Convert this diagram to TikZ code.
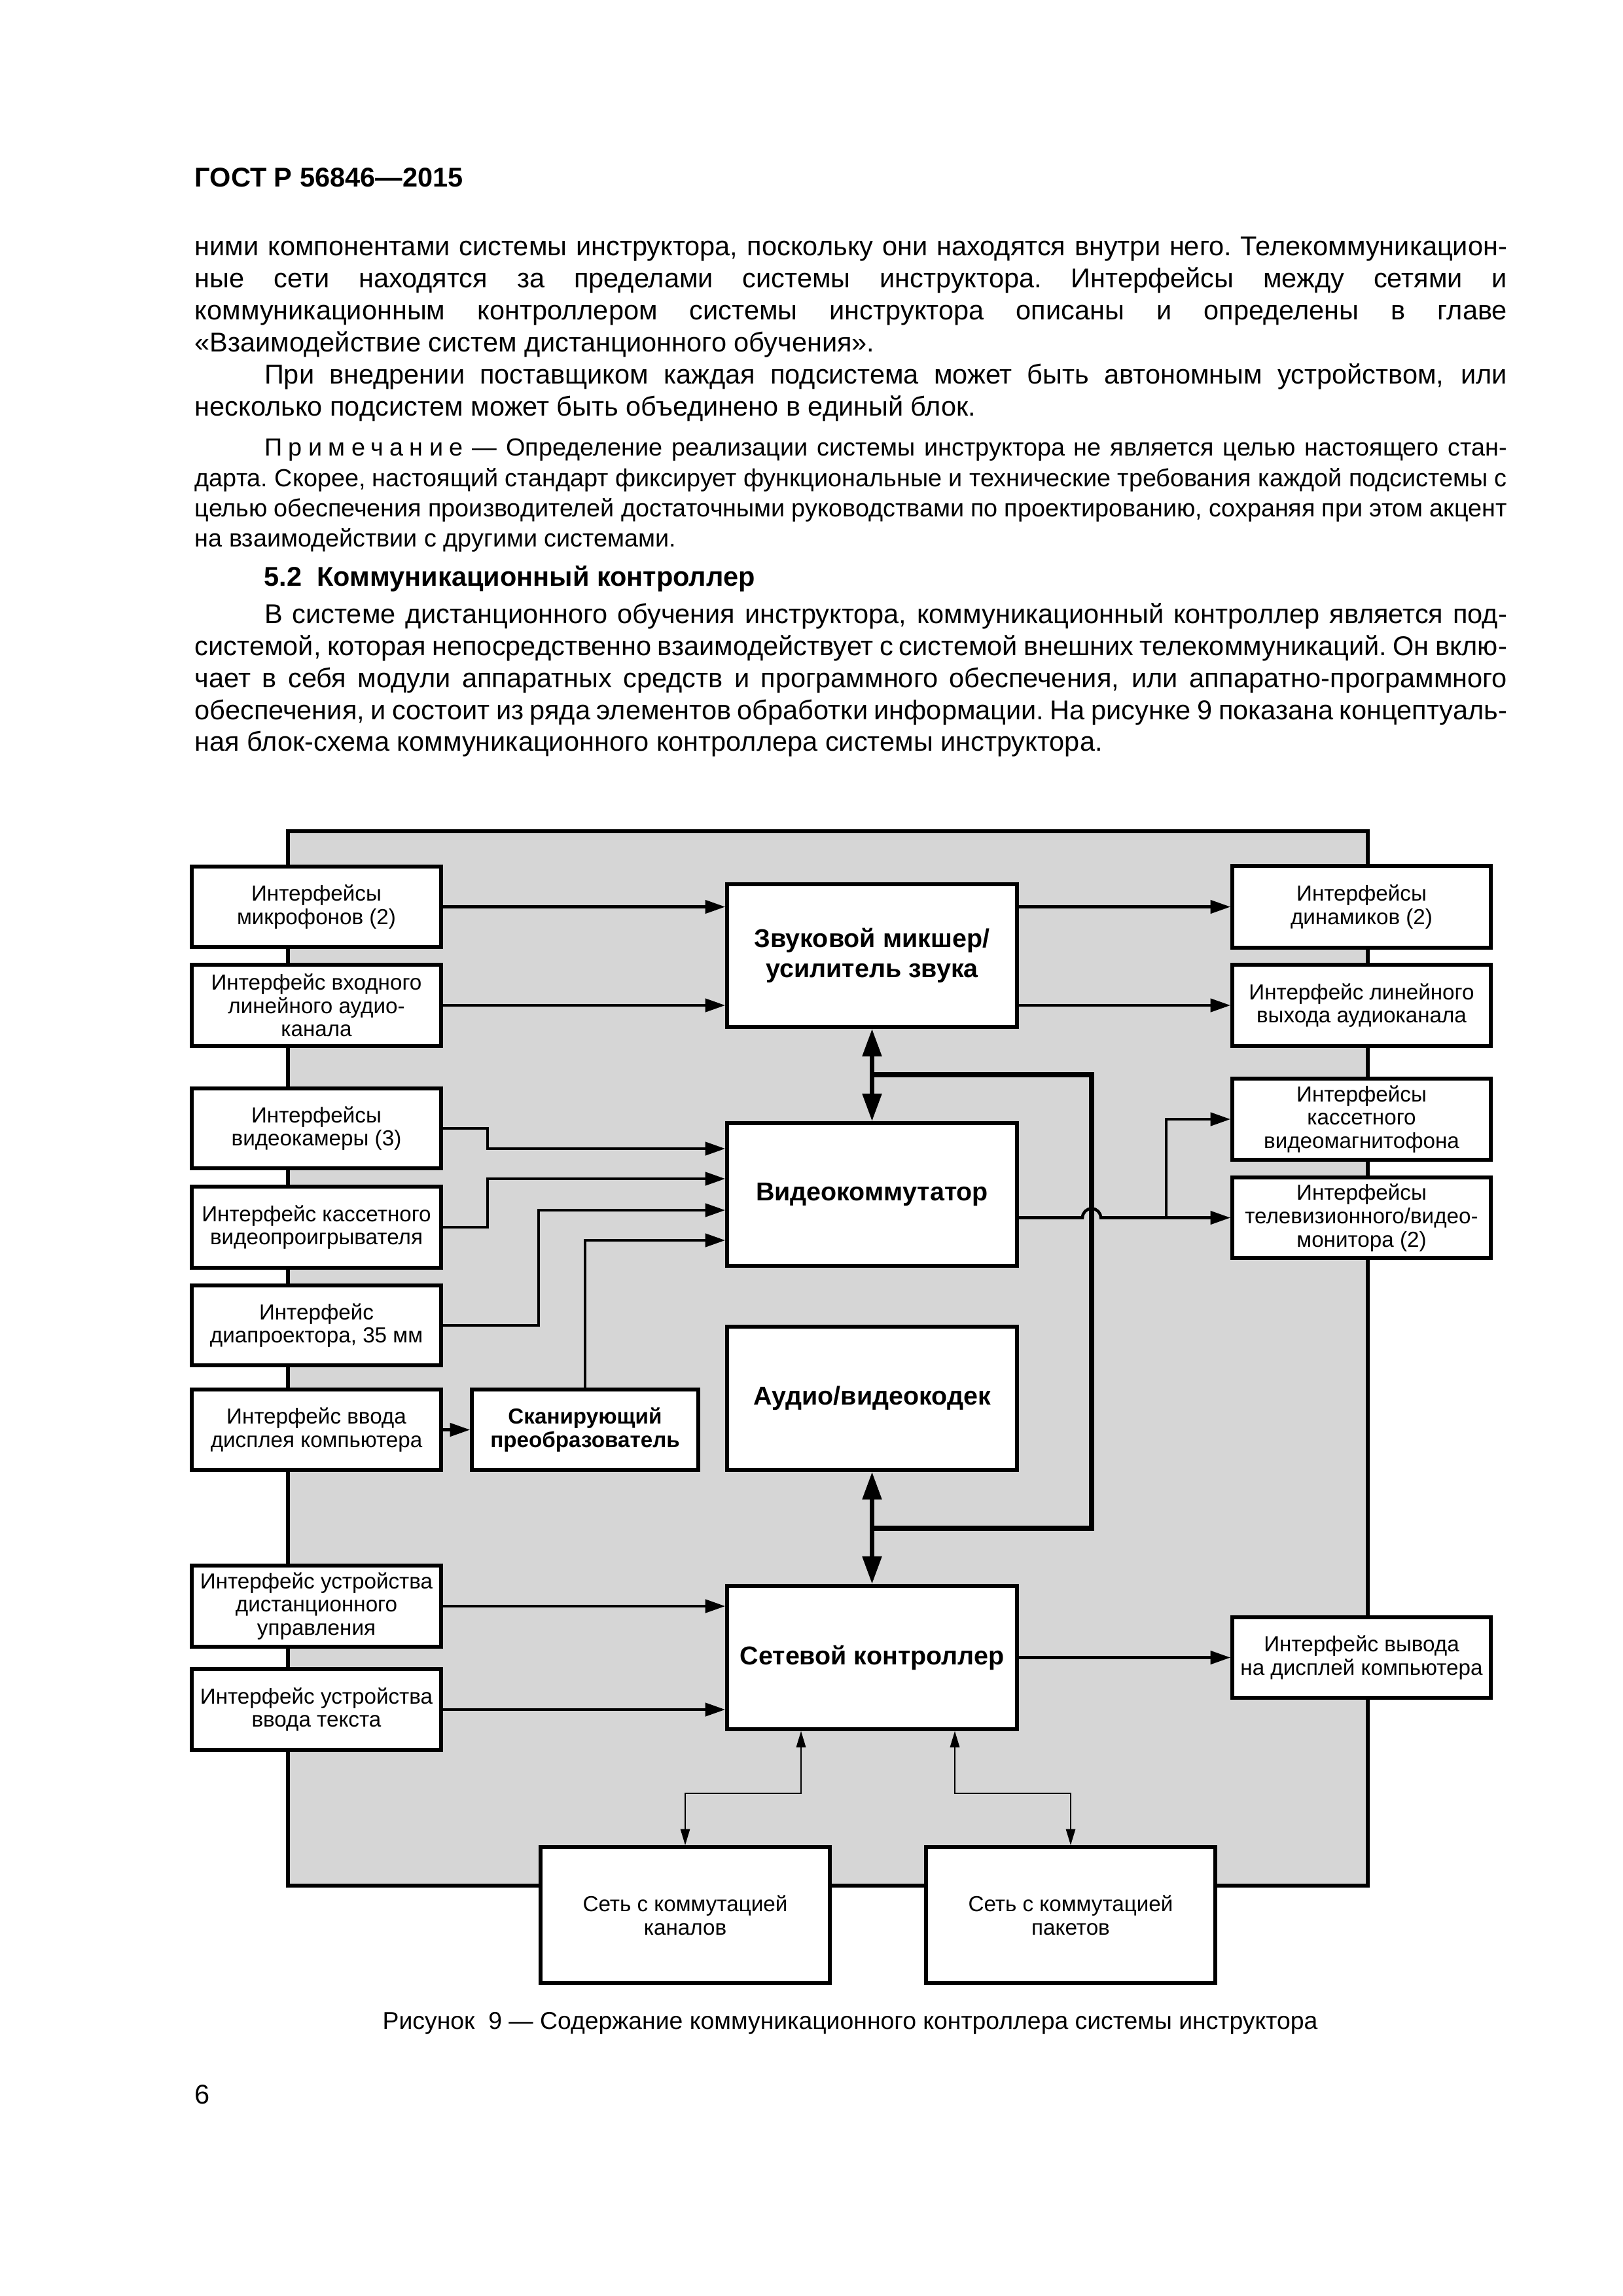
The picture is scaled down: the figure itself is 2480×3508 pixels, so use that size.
\documentclass[tikz,border=0pt]{standalone}
\usepackage{fontspec}
\setmainfont{Liberation Sans}
\usetikzlibrary{arrows.meta}

\newcommand\pxu{0.084667mm}
\newlength\tw \setlength\tw{169.76mm}
\newcommand\fbody{\fontsize{10}{12}\selectfont\spaceskip=.278em plus .5em minus .12em\xspaceskip=\spaceskip}
\newcommand\fnote{\fontsize{9.1}{11}\selectfont\spaceskip=.278em plus .5em minus .14em\xspaceskip=\spaceskip}
\newcommand\fhead{\fontsize{10}{12}\selectfont\bfseries}
\newcommand\fcap{\fontsize{9}{11}\selectfont}
\newcommand\fsm{\fontsize{8}{8.6}\selectfont}
\newcommand\fbig{\fontsize{9.5}{11}\selectfont\bfseries}
\newcommand\fsmb{\fontsize{8}{8.8}\selectfont\bfseries}
\newcommand\JL[1]{\hbox to\tw{#1}}
\newcommand\bx[6]{\node[#1, minimum width={(#4-#2)*\pxu}, minimum height={(#5-#3)*\pxu}] (#6) at ({(#2+#4)/2},{(#3+#5)/2})}

\tikzset{
  box/.style={draw, line width=1.3pt, fill=white, inner sep=0pt, align=center, font=\fsm},
  bigbox/.style={box, font=\fbig},
  scanbox/.style={box, font=\fsmb},
  frame/.style={draw, line width=1.3pt, fill=black!16, inner sep=0pt},
  arr/.style={line width=1.1pt, -{Triangle[length=2.6mm,width=1.7mm]}},
  dbl/.style={line width=1.8pt, {Triangle[length=3.6mm,width=2.4mm]}-{Triangle[length=3.6mm,width=2.4mm]}},
  bus/.style={line width=1.8pt},
  thinarr/.style={line width=0.6pt, {Triangle[length=2.1mm,width=1.2mm]}-{Triangle[length=2.1mm,width=1.2mm]}},
  txt/.style={anchor=base west, inner sep=0pt},
}

\begin{document}
\begin{tikzpicture}[x=\pxu, y=-\pxu]
\useasboundingbox (0,0) rectangle (2480,3508);

% ---------- page text ----------
\node[txt, font=\fhead] (hd) at (297,285) {ГОСТ Р 56846—2015};

\node[txt, font=\fbody] (t1) at (297,390) {\JL{ними компонентами системы инструктора, поскольку они находятся внутри него. Телекоммуникацион-}};
\node[txt, font=\fbody] (t2) at (297,439) {\JL{ные сети находятся за пределами системы инструктора. Интерфейсы между сетями и}};
\node[txt, font=\fbody] (t3) at (297,488) {\JL{коммуникационным контроллером системы инструктора описаны и определены в главе}};
\node[txt, font=\fbody] (t4) at (297,537) {«Взаимодействие систем дистанционного обучения».};
\node[txt, font=\fbody] (t5) at (297,586) {\JL{\hspace*{9mm}При внедрении поставщиком каждая подсистема может быть автономным устройством, или}};
\node[txt, font=\fbody] (t6) at (297,635) {несколько подсистем может быть объединено в единый блок.};

\node[txt, font=\fnote] (n1) at (297,696) {\JL{\hspace*{9mm}{\addfontfeature{LetterSpace=25}Примечание} — Определение реализации системы инструктора не является целью настоящего стан-}};
\node[txt, font=\fnote] (n2) at (297,743) {\JL{дарта. Скорее, настоящий стандарт фиксирует функциональные и технические требования каждой подсистемы с}};
\node[txt, font=\fnote] (n3) at (297,789) {\JL{целью обеспечения производителей достаточными руководствами по проектированию, сохраняя при этом акцент}};
\node[txt, font=\fnote] (n4) at (297,835) {на взаимодействии с другими системами.};

\node[txt, font=\fhead] (h52) at (403,895) {5.2\ \ Коммуникационный контроллер};

\node[txt, font=\fbody] (s1) at (297,952) {\JL{\hspace*{9mm}В системе дистанционного обучения инструктора, коммуникационный контроллер является под-}};
\node[txt, font=\fbody] (s2) at (297,1001) {\JL{системой, которая непосредственно взаимодействует с системой внешних телекоммуникаций. Он вклю-}};
\node[txt, font=\fbody] (s3) at (297,1050) {\JL{чает в себя модули аппаратных средств и программного обеспечения, или аппаратно-программного}};
\node[txt, font=\fbody] (s4) at (297,1099) {\JL{обеспечения, и состоит из ряда элементов обработки информации. На рисунке 9 показана концептуаль-}};
\node[txt, font=\fbody] (s5) at (297,1147) {ная блок-схема коммуникационного контроллера системы инструктора.};

% ---------- diagram ----------
\bx{frame}{440}{1270}{2090}{2881}{frame} {};

\bx{box}{293}{1324}{674}{1447}{L1} {Интерфейсы\\микрофонов (2)};
\bx{box}{293}{1474}{674}{1598}{L2} {Интерфейс входного\\линейного аудио-\\канала};
\bx{box}{293}{1663}{674}{1785}{L3} {Интерфейсы\\видеокамеры (3)};
\bx{box}{293}{1813}{674}{1937}{L4} {Интерфейс кассетного\\видеопроигрывателя};
\bx{box}{293}{1964}{674}{2086}{L5} {Интерфейс\\диапроектора, 35 мм};
\bx{box}{293}{2123}{674}{2246}{L6} {Интерфейс ввода\\дисплея компьютера};
\bx{box}{293}{2392}{674}{2516}{L7} {Интерфейс устройства\\дистанционного\\управления};
\bx{box}{293}{2550}{674}{2674}{L8} {Интерфейс устройства\\ввода текста};

\bx{scanbox}{721}{2123}{1067}{2246}{sc} {Сканирующий\\преобразователь};

\bx{bigbox}{1111}{1351}{1554}{1569}{mix} {Звуковой микшер/\\усилитель звука};
\bx{bigbox}{1111}{1716}{1554}{1934}{vc} {Видеокоммутатор};
\bx{bigbox}{1111}{2027}{1554}{2246}{cod} {Аудио/видеокодек};
\bx{bigbox}{1111}{2423}{1554}{2642}{nc} {Сетевой контроллер};

\bx{box}{1883}{1323}{2278}{1448}{R1} {Интерфейсы\\динамиков (2)};
\bx{box}{1883}{1474}{2278}{1598}{R2} {Интерфейс линейного\\выхода аудиоканала};
\bx{box}{1883}{1648}{2278}{1772}{R3} {Интерфейсы\\кассетного\\видеомагнитофона};
\bx{box}{1883}{1799}{2278}{1922}{R4} {Интерфейсы\\телевизионного/видео-\\монитора (2)};
\bx{box}{1883}{2471}{2278}{2594}{Ro} {Интерфейс вывода\\на дисплей компьютера};

\bx{box}{826}{2822}{1268}{3030}{ch} {Сеть с коммутацией\\каналов};
\bx{box}{1415}{2822}{1857}{3030}{pk} {Сеть с коммутацией\\пакетов};

% connectors
\draw[arr] (L1.east) -- (L1.east -| mix.west);
\draw[arr] (L2.east) -- (L2.east -| mix.west);
\draw[arr] (mix.east |- R1.west) -- (R1.west);
\draw[arr] (mix.east |- R2.west) -- (R2.west);

\draw[arr] (L3.east) -- (L3.east -| 745,0) |- (vc.west |- 0,1755);
\draw[arr] (L4.east) -- (L4.east -| 745,0) |- (vc.west |- 0,1801);
\draw[arr] (L5.east) -- (L5.east -| 823,0) |- (vc.west |- 0,1849);
\draw[arr] (sc.north) |- (vc.west |- 0,1895);
\draw[arr] (L6.east) -- (sc.west);

\draw[bus] (mix.south |- 0,1642) -| (1668,2335) -- (nc.north |- 0,2335);
\draw[dbl] (mix.south) -- (vc.north);
\draw[dbl] (cod.south) -- (nc.north);

\draw[arr] (vc.east |- R4.west) -- (R4.west -| 1654,0) arc[start angle=180, end angle=0, radius=14*\pxu] -- (R4.west);
\draw[arr] (R4.west -| 1782,0) |- (R3.west);

\draw[arr] (L7.east) -- (L7.east -| nc.west);
\draw[arr] (L8.east) -- (L8.east -| nc.west);
\draw[arr] (nc.east |- Ro.west) -- (Ro.west);

\draw[thinarr] (nc.south -| 1224,0) |- (ch.north |- 0,2740) -- (ch.north);
\draw[thinarr] (nc.south -| 1459,0) |- (pk.north |- 0,2740) -- (pk.north);

% caption and page number
\node[anchor=base, inner sep=0pt, font=\fcap] (cap) at (1299,3100) {Рисунок\ \ 9 — Содержание коммуникационного контроллера системы инструктора};
\node[txt, font=\fbody] (pn) at (297,3214) {6};
\end{tikzpicture}
\end{document}
